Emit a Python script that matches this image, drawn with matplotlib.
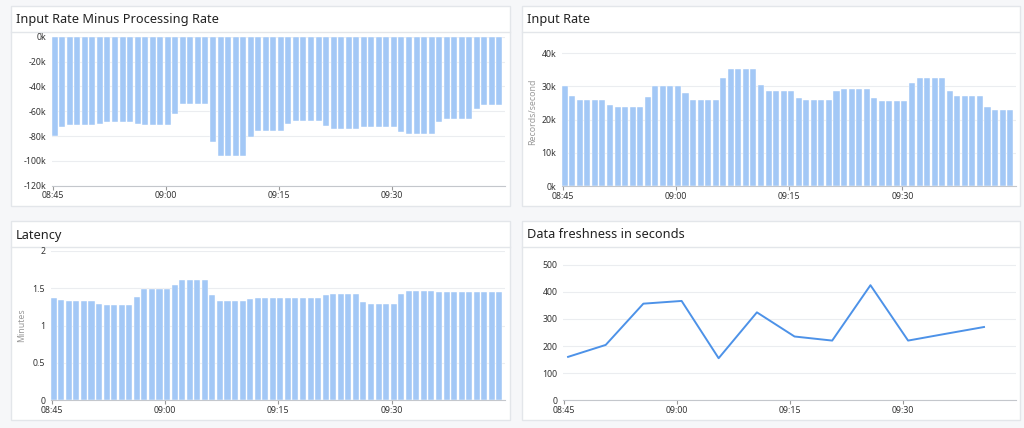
import matplotlib
matplotlib.use("Agg")
import matplotlib.pyplot as plt
import matplotlib.dates as mdates
from matplotlib.patches import Rectangle
from matplotlib.ticker import FuncFormatter
import numpy as np
import pandas as pd

plt.rcParams['font.family'] = ['Noto Sans', 'DejaVu Sans']

# one bar per minute starting 08:45
minutes = pd.date_range("2024-01-01 08:45", periods=60, freq="1min")

in_minus_proc = [-80, -73, -71, -71, -71, -71, -70, -69, -69, -69, -69, -70,
                 -71, -71, -71, -71, -62, -54, -54, -54, -54, -85, -96, -96,
                 -96, -96, -81, -76, -76, -76, -76, -70, -68, -68, -68, -68,
                 -72, -74, -74, -74, -74, -73, -73, -73, -73, -73, -77, -78,
                 -78, -78, -78, -69, -66, -66, -66, -66, -58, -55, -55, -55]

input_rate = [30.2, 27.0, 26.0, 26.0, 26.0, 26.0, 24.3, 23.7, 23.7, 23.7, 23.7, 26.9,
              30.2, 30.2, 30.2, 30.2, 27.9, 25.8, 25.8, 25.8, 25.8, 32.7, 35.2, 35.2,
              35.2, 35.2, 30.5, 28.7, 28.7, 28.7, 28.7, 26.5, 25.8, 25.8, 25.8, 25.8,
              28.5, 29.2, 29.2, 29.2, 29.2, 26.5, 25.6, 25.6, 25.6, 25.6, 31.0, 32.7,
              32.7, 32.7, 32.7, 28.5, 27.2, 27.2, 27.2, 27.2, 23.7, 22.9, 22.9, 22.9]

latency = [1.375, 1.34, 1.33, 1.33, 1.33, 1.33, 1.29, 1.277, 1.277, 1.277, 1.277, 1.39,
           1.495, 1.495, 1.495, 1.495, 1.55, 1.616, 1.616, 1.616, 1.616, 1.41, 1.33, 1.33,
           1.33, 1.33, 1.36, 1.375, 1.375, 1.375, 1.375, 1.375, 1.375, 1.375, 1.375, 1.375,
           1.41, 1.42, 1.42, 1.42, 1.42, 1.32, 1.285, 1.285, 1.285, 1.285, 1.42, 1.46,
           1.46, 1.46, 1.46, 1.45, 1.45, 1.45, 1.45, 1.45, 1.45, 1.45, 1.45, 1.45]

fresh_times = ["08:45:30", "08:50:30", "08:55:30", "09:00:35", "09:05:30", "09:10:35",
               "09:15:35", "09:20:35", "09:25:40", "09:30:40", "09:35:40", "09:40:45"]
freshness = [160, 204, 356, 366, 155, 324, 235, 220, 424, 220, 245, 270]

W, H = 1024, 428
BG = "#f6f7f9"
BAR = "#a3c8f6"
LINE = "#4d92e8"
GRID = "#ebedf0"
TXT = "#333333"

fig = plt.figure(figsize=(W / 100, H / 100), dpi=100)
fig.patch.set_facecolor(BG)


def fx(x):
    return x / W


def fy(y):
    return 1 - y / H


def panel(l, t, r, b, title, sep):
    fig.patches.append(Rectangle((fx(l), fy(b)), fx(r - l), (b - t) / H,
                                 transform=fig.transFigure, facecolor="white",
                                 edgecolor="#e3e6ea", lw=1, zorder=-2))
    fig.lines.append(plt.Line2D([fx(l), fx(r)], [fy(sep), fy(sep)],
                                transform=fig.transFigure, color="#e3e6ea", lw=1,
                                zorder=-1))
    fig.text(fx(l + 5), fy((t + sep) / 2 + 1), title, fontsize=9.2, color="#222222",
             va="center", ha="left")


def make_ax(l, t, r, b):
    ax = fig.add_axes([fx(l), fy(b), fx(r - l), (b - t) / H])
    ax.set_facecolor("none")
    for s in ["top", "right", "left"]:
        ax.spines[s].set_visible(False)
    ax.spines["bottom"].set_color("#c4c7cc")
    ax.grid(axis="y", color=GRID, lw=0.8)
    ax.set_axisbelow(True)
    ax.tick_params(axis="y", length=0, labelsize=6.3, labelcolor=TXT, pad=4)
    ax.tick_params(axis="x", length=3, color="#999999", labelsize=6.3, labelcolor=TXT, pad=1)
    t0 = pd.Timestamp("2024-01-01 08:45")
    ax.set_xlim(t0 - pd.Timedelta(seconds=8), t0 + pd.Timedelta(minutes=60))
    ax.set_xticks(pd.date_range(t0, periods=4, freq="15min"))
    ax.xaxis.set_major_formatter(mdates.DateFormatter("%H:%M"))
    return ax


panel(11, 6, 510, 206, "Input Rate Minus Processing Rate", 32)
panel(522, 6, 1020, 206, "Input Rate", 32)
panel(11, 221, 510, 420, "Latency", 247)
panel(522, 221, 1020, 420, "Data freshness in seconds", 247)

bar_x = minutes + pd.Timedelta(seconds=16)
bw = 0.8 / 1440
kfmt = FuncFormatter(lambda v, p: "%dk" % round(v / 1000))

ax1 = make_ax(51.7, 36.7, 505, 185.7)
ax1.bar(bar_x, np.array(in_minus_proc) * 1000, width=bw, color=BAR, edgecolor="white", lw=0.3)
ax1.set_ylim(-120000, 0)
ax1.set_yticks(np.arange(-120000, 1, 20000))
ax1.yaxis.set_major_formatter(kfmt)

ax2 = make_ax(561.7, 36.7, 1015.7, 186)
ax2.bar(bar_x, np.array(input_rate) * 1000, width=bw, color=BAR, edgecolor="white", lw=0.3)
ax2.set_ylim(0, 45000)
ax2.set_yticks(np.arange(0, 40001, 10000))
ax2.yaxis.set_major_formatter(kfmt)
ax2.set_ylabel("Records/second", fontsize=6.3, color="#9a9a9a", labelpad=3)

ax3 = make_ax(50.7, 251, 505, 400.3)
ax3.bar(bar_x, latency, width=bw, color=BAR, edgecolor="white", lw=0.3)
ax3.set_ylim(0, 2)
ax3.set_yticks([0, 0.5, 1, 1.5, 2])
ax3.yaxis.set_major_formatter(FuncFormatter(lambda v, p: "%g" % v))
ax3.set_ylabel("Minutes", fontsize=6.3, color="#9a9a9a", labelpad=5)

ax4 = make_ax(563.3, 251, 1016, 400.3)
ft = pd.to_datetime(["2024-01-01 " + s for s in fresh_times])
ax4.plot(ft, freshness, color=LINE, lw=1.4)
ax4.set_ylim(0, 550)
ax4.set_yticks(np.arange(0, 501, 100))

fig.savefig("out.png", dpi=100, facecolor=BG)
